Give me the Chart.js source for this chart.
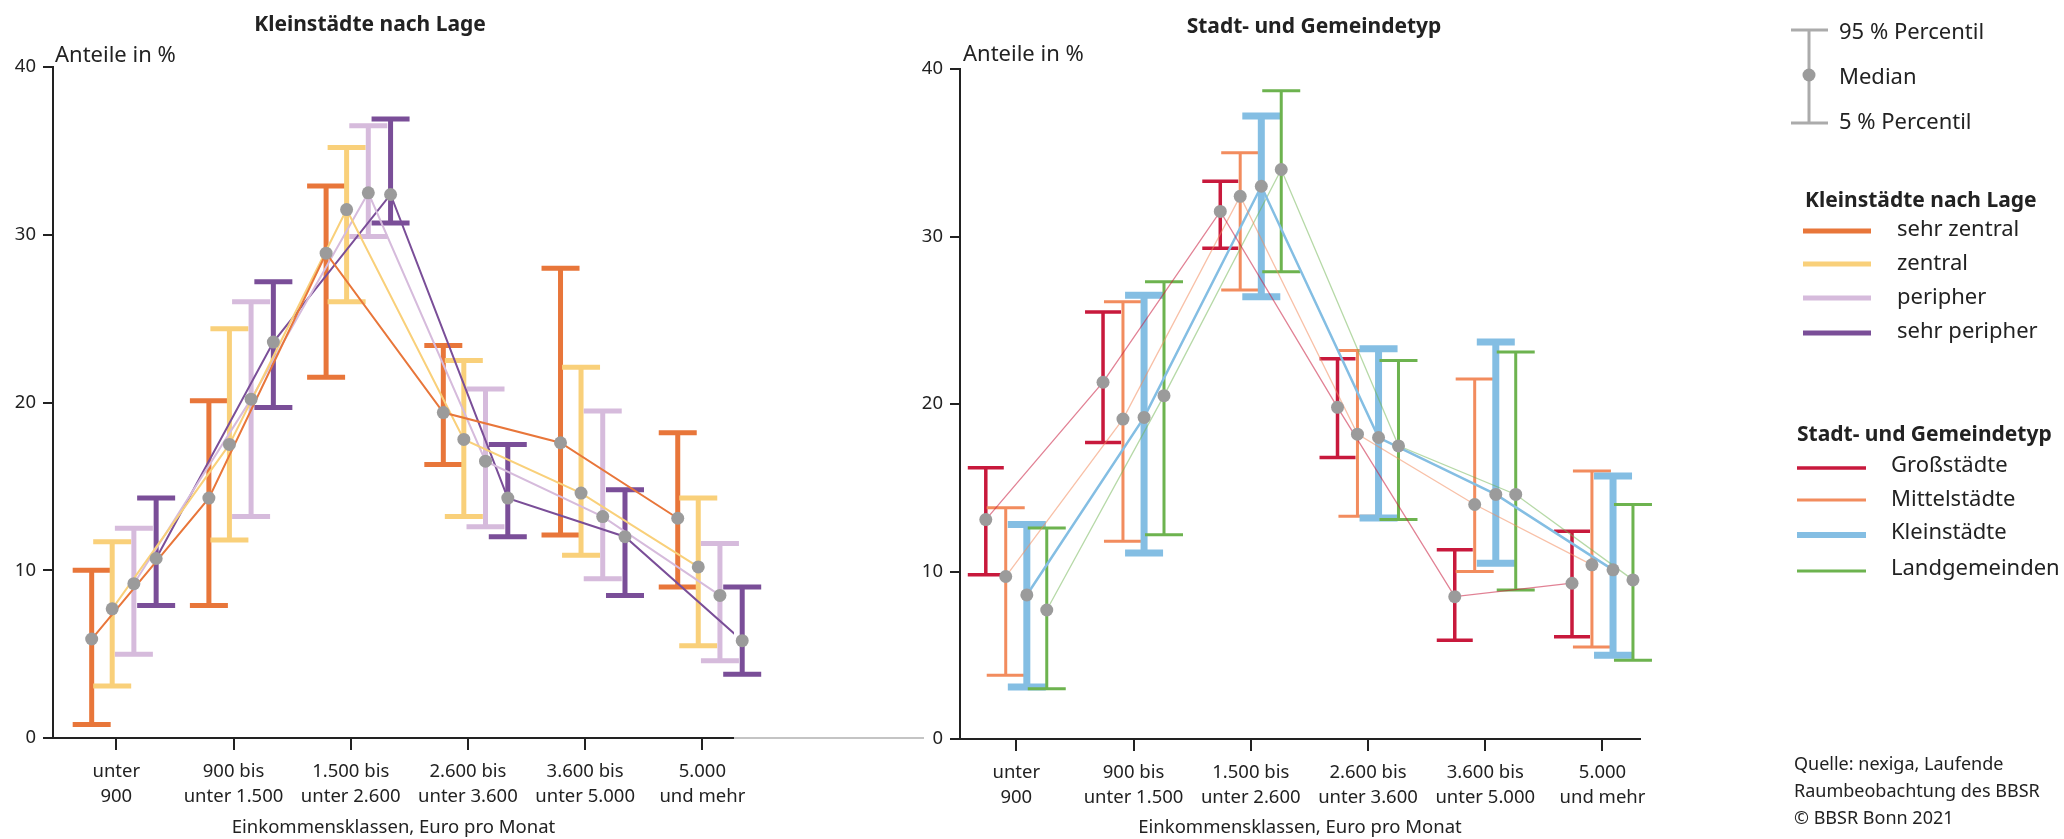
<!DOCTYPE html>
<html><head><meta charset="utf-8">
<script src="https://cdn.jsdelivr.net/npm/chart.js@4"></script>
<style>
html,body{margin:0;padding:0;background:#fff;}
body{width:2064px;height:839px;position:relative;overflow:hidden;font-family:"Noto Sans",sans-serif;color:#222;}
.t{position:absolute;white-space:nowrap;line-height:1;}
.c{transform:translate(-50%,-50%);}
.l{transform:translate(0,-50%);}
canvas{position:absolute;top:0;}
</style></head><body>
<canvas id="left" width="900" height="839" style="left:0"></canvas>
<canvas id="right" width="900" height="839" style="left:900px"></canvas>
<div style="position:absolute;left:734px;top:737px;width:190px;height:2px;background:#c4c4c4"></div>

<div class="t c" style="left:370px;top:23px;font-weight:bold;font-size:21px">Kleinstädte nach Lage</div>
<div class="t c" style="left:1314px;top:25px;font-weight:bold;font-size:21px">Stadt- und Gemeindetyp</div>
<div class="t l" style="left:55px;top:53px;font-size:22px">Anteile in %</div>
<div class="t l" style="left:963px;top:52px;font-size:22px">Anteile in %</div>

<svg style="position:absolute;left:0;top:0" width="2064" height="839">
  <g stroke="#ababab" stroke-width="3">
    <line x1="1809" y1="30" x2="1809" y2="123"/>
    <line x1="1791" y1="30" x2="1828" y2="30"/>
    <line x1="1791" y1="123" x2="1828" y2="123"/>
  </g>
  <circle cx="1809" cy="75" r="6.5" fill="#9b9b9b"/>
  <g stroke-width="5">
    <line x1="1803" y1="231" x2="1871" y2="231" stroke="#E8763A"/>
    <line x1="1803" y1="264" x2="1871" y2="264" stroke="#F9D07A"/>
    <line x1="1803" y1="298" x2="1871" y2="298" stroke="#D6BBDC"/>
    <line x1="1803" y1="333" x2="1871" y2="333" stroke="#7A4E98"/>
  </g>
  <line x1="1797" y1="468" x2="1866" y2="468" stroke="#C8193C" stroke-width="3.5"/>
  <line x1="1797" y1="500" x2="1866" y2="500" stroke="#F28C5E" stroke-width="3"/>
  <line x1="1797" y1="535" x2="1866" y2="535" stroke="#84BEE3" stroke-width="6"/>
  <line x1="1797" y1="571" x2="1866" y2="571" stroke="#6DB34F" stroke-width="3"/>
</svg>
<div class="t l" style="left:1839px;top:30px;font-size:22px">95 % Percentil</div>
<div class="t l" style="left:1839px;top:75px;font-size:22px">Median</div>
<div class="t l" style="left:1839px;top:120px;font-size:22px">5 % Percentil</div>
<div class="t l" style="left:1805px;top:199px;font-size:21px;font-weight:bold">Kleinstädte nach Lage</div>
<div class="t l" style="left:1897px;top:227px;font-size:22px">sehr zentral</div>
<div class="t l" style="left:1897px;top:261px;font-size:22px">zentral</div>
<div class="t l" style="left:1897px;top:295px;font-size:22px">peripher</div>
<div class="t l" style="left:1897px;top:329px;font-size:22px">sehr peripher</div>
<div class="t l" style="left:1797px;top:433px;font-size:21px;font-weight:bold">Stadt- und Gemeindetyp</div>
<div class="t l" style="left:1891px;top:463px;font-size:22px">Großstädte</div>
<div class="t l" style="left:1891px;top:497px;font-size:22px">Mittelstädte</div>
<div class="t l" style="left:1891px;top:530px;font-size:22px">Kleinstädte</div>
<div class="t l" style="left:1891px;top:566px;font-size:22px">Landgemeinden</div>
<div class="t l" style="left:1794px;top:763px;font-size:18px">Quelle: nexiga, Laufende</div>
<div class="t l" style="left:1794px;top:790px;font-size:18px">Raumbeobachtung des BBSR</div>
<div class="t l" style="left:1794px;top:817px;font-size:18px">© BBSR Bonn 2021</div>

<script>
// ---- categories / tick labels ----
const categories = [['unter','900'],['900 bis','unter 1.500'],['1.500 bis','unter 2.600'],['2.600 bis','unter 3.600'],['3.600 bis','unter 5.000'],['5.000','und mehr']];
const yTicks = [0, 10, 20, 30, 40];

// ---- Kleinstädte nach Lage (median, 5 % and 95 % percentile) ----
const sehrZentralMedian = [5.9, 14.3, 28.9, 19.4, 17.6, 13.1];
const sehrZentralP5     = [0.8, 7.9, 21.5, 16.3, 12.1, 9.0];
const sehrZentralP95    = [10.0, 20.1, 32.9, 23.4, 28.0, 18.2];

const zentralMedian = [7.7, 17.5, 31.5, 17.8, 14.6, 10.2];
const zentralP5     = [3.1, 11.8, 26.0, 13.2, 10.9, 5.5];
const zentralP95    = [11.7, 24.4, 35.2, 22.5, 22.1, 14.3];

const peripherMedian = [9.2, 20.2, 32.5, 16.5, 13.2, 8.5];
const peripherP5     = [5.0, 13.2, 29.9, 12.6, 9.5, 4.6];
const peripherP95    = [12.5, 26.0, 36.5, 20.8, 19.5, 11.6];

const sehrPeripherMedian = [10.7, 23.6, 32.4, 14.3, 12.0, 5.8];
const sehrPeripherP5     = [7.9, 19.7, 30.7, 12.0, 8.5, 3.8];
const sehrPeripherP95    = [14.3, 27.2, 36.9, 17.5, 14.8, 9.0];

// ---- Stadt- und Gemeindetyp ----
const grossMedian = [13.1, 21.3, 31.5, 19.8, 8.5, 9.3];
const grossP5     = [9.8, 17.7, 29.3, 16.8, 5.9, 6.1];
const grossP95    = [16.2, 25.5, 33.3, 22.7, 11.3, 12.4];

const mittelMedian = [9.7, 19.1, 32.4, 18.2, 14.0, 10.4];
const mittelP5     = [3.8, 11.8, 26.8, 13.3, 10.0, 5.5];
const mittelP95    = [13.8, 26.1, 35.0, 23.2, 21.5, 16.0];

const kleinMedian = [8.6, 19.2, 33.0, 18.0, 14.6, 10.1];
const kleinP5     = [3.1, 11.1, 26.4, 13.2, 10.5, 5.0];
const kleinP95    = [12.8, 26.5, 37.2, 23.3, 23.7, 15.7];

const landMedian = [7.7, 20.5, 34.0, 17.5, 14.6, 9.5];
const landP5     = [3.0, 12.2, 27.9, 13.1, 8.9, 4.7];
const landP95    = [12.6, 27.3, 38.7, 22.6, 23.1, 14.0];

// ---- styles ----
const FONT = '"Noto Sans", sans-serif';
const INK = '#222';

function series(label, med, lo, hi, st){
  return {
    label,
    data: med.map((v,i)=>({x:i+st.off, y:v})),
    low: lo, high: hi,
    borderColor: st.line, borderWidth: st.lw,
    barColor: st.bar, barWidth: st.bw, capHalf: st.cap,
    pointRadius: 0, tension: 0, fill:false
  };
}

const errorBars = {
  id:'errorBars',
  beforeDatasetsDraw(chart){
    const ctx = chart.ctx, ys = chart.scales.y;
    chart.data.datasets.forEach((ds,di)=>{
      const meta = chart.getDatasetMeta(di);
      ctx.save();
      ctx.strokeStyle = ds.barColor; ctx.lineWidth = ds.barWidth; ctx.lineCap='butt';
      meta.data.forEach((pt,i)=>{
        const x = pt.x, yl = ys.getPixelForValue(ds.low[i]), yh = ys.getPixelForValue(ds.high[i]);
        const c = ds.capHalf;
        ctx.beginPath();
        ctx.moveTo(x, yh); ctx.lineTo(x, yl);
        ctx.moveTo(x-c, yh); ctx.lineTo(x+c, yh);
        ctx.moveTo(x-c, yl); ctx.lineTo(x+c, yl);
        ctx.stroke();
      });
      ctx.restore();
    });
  },
  afterDatasetsDraw(chart){
    const ctx = chart.ctx;
    chart.data.datasets.forEach((ds,di)=>{
      chart.getDatasetMeta(di).data.forEach(pt=>{
        ctx.beginPath(); ctx.fillStyle='#9b9b9b';
        ctx.arc(pt.x, pt.y, 6.5, 0, Math.PI*2); ctx.fill();
      });
    });
  }
};

function makeOptions(cfg){
  return {
    responsive:false, animation:false, devicePixelRatio:1,
    layout:{padding:{top:cfg.top, right:cfg.right, left:0, bottom:0}},
    plugins:{legend:{display:false}, tooltip:{enabled:false}},
    scales:{
      x:{
        type:'linear', min:cfg.xmin, max:cfg.xmax,
        afterBuildTicks(s){ s.ticks = categories.map((c,i)=>({value:i})); },
        afterFit(s){ s.height = cfg.xh; },
        ticks:{callback:(v)=>categories[v], color:INK, font:{family:FONT,size:18.5,lineHeight:1.32}, padding:10, maxRotation:0, autoSkip:false},
        grid:{drawOnChartArea:false, drawTicks:true, tickLength:12, color:INK, lineWidth:2},
        border:{display:true, color:INK, width:2},
        title:{display:true, text:'Einkommensklassen, Euro pro Monat', color:INK, font:{family:FONT,size:18.5,lineHeight:1.2}, padding:{top:0,bottom:0}}
      },
      y:{
        min:0, max:40,
        afterBuildTicks(s){ s.ticks = yTicks.map(v=>({value:v})); },
        afterFit(s){ s.width = cfg.yw; },
        ticks:{color:INK, font:{family:FONT,size:18.5}, padding:7},
        grid:{drawOnChartArea:false, drawTicks:true, tickLength:10, color:INK, lineWidth:2},
        border:{display:true, color:INK, width:2}
      }
    }
  };
}

const stL = {
  sz:{off:-0.21, line:'#E8763A', bar:'#E8763A', lw:2, bw:5, cap:19},
  z: {off:-0.035, line:'#F9D07A', bar:'#F9D07A', lw:2, bw:5, cap:19},
  p: {off:0.15, line:'#D6BBDC', bar:'#D6BBDC', lw:2, bw:5, cap:19},
  sp:{off:0.34, line:'#7A4E98', bar:'#7A4E98', lw:2, bw:5, cap:19}
};
new Chart(document.getElementById('left'), {
  type:'line',
  data:{datasets:[
    series('sehr zentral', sehrZentralMedian, sehrZentralP5, sehrZentralP95, stL.sz),
    series('zentral', zentralMedian, zentralP5, zentralP95, stL.z),
    series('peripher', peripherMedian, peripherP5, peripherP95, stL.p),
    series('sehr peripher', sehrPeripherMedian, sehrPeripherP5, sehrPeripherP95, stL.sp)
  ]},
  options: makeOptions({top:67, right:166, xmin:-0.54, xmax:5.27, xh:101, yw:53}),
  plugins:[errorBars]
});

const stR = {
  g:{off:-0.26, line:'rgba(200,25,60,0.55)', bar:'#C8193C', lw:1.3, bw:3.5, cap:18},
  m:{off:-0.09, line:'rgba(242,140,94,0.55)', bar:'#F28C5E', lw:1.3, bw:3, cap:19},
  k:{off:0.09, line:'#84BEE3', bar:'#84BEE3', lw:2.5, bw:7, cap:19},
  l:{off:0.26, line:'rgba(109,179,79,0.5)', bar:'#6DB34F', lw:1.3, bw:3, cap:19}
};
new Chart(document.getElementById('right'), {
  type:'line',
  data:{datasets:[
    series('Großstädte', grossMedian, grossP5, grossP95, stR.g),
    series('Mittelstädte', mittelMedian, mittelP5, mittelP95, stR.m),
    series('Kleinstädte', kleinMedian, kleinP5, kleinP95, stR.k),
    series('Landgemeinden', landMedian, landP5, landP95, stR.l)
  ]},
  options: makeOptions({top:69, right:160, xmin:-0.48, xmax:5.32, xh:100, yw:60}),
  plugins:[errorBars]
});
</script>
</body></html>
